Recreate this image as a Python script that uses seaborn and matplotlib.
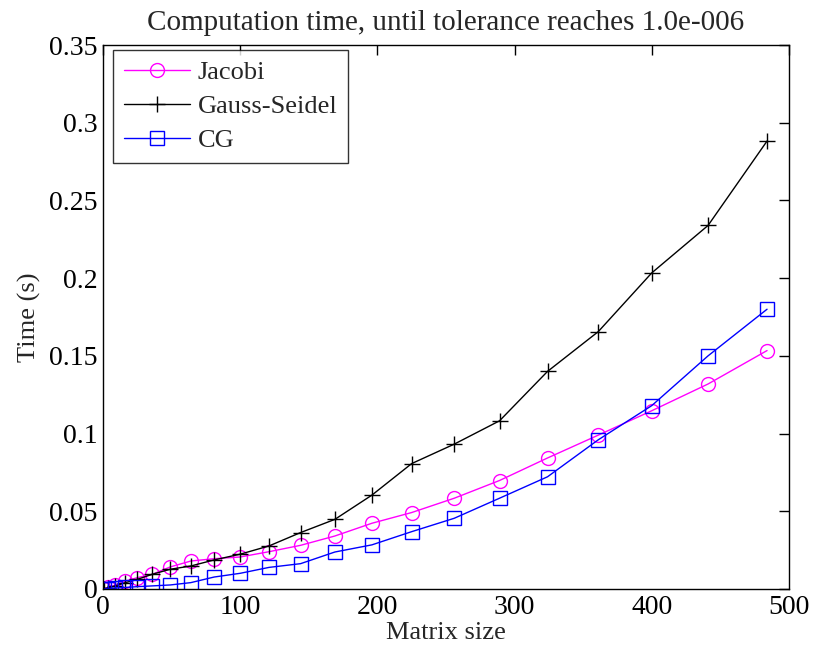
import numpy as np
import pandas as pd
import matplotlib
matplotlib.use("Agg")
import matplotlib.pyplot as plt
import seaborn as sns

# Matrix sizes (n^2 for n = 1..22) and measured solve times in seconds
matrix_size = [1, 4, 9, 16, 25, 36, 49, 64, 81, 100, 121, 144, 169, 196,
               225, 256, 289, 324, 361, 400, 441, 484]
jacobi = [0.0003, 0.0010, 0.0025, 0.0050, 0.0073, 0.0095, 0.0142, 0.0180,
          0.0195, 0.0206, 0.0240, 0.0281, 0.0341, 0.0423, 0.0492, 0.0584,
          0.0698, 0.0843, 0.0990, 0.1147, 0.1319, 0.1534]
gauss_seidel = [0.0002, 0.0008, 0.0020, 0.0040, 0.0062, 0.0095, 0.0127,
                0.0148, 0.0187, 0.0224, 0.0277, 0.0363, 0.0448, 0.0604,
                0.0807, 0.0932, 0.1082, 0.1400, 0.1656, 0.2034, 0.2339,
                0.2882]
cg = [0.0001, 0.0003, 0.0006, 0.0010, 0.0015, 0.0020, 0.0026, 0.0041,
      0.0077, 0.0101, 0.0139, 0.0163, 0.0238, 0.0284, 0.0369, 0.0455,
      0.0584, 0.0722, 0.0960, 0.1180, 0.1500, 0.1800]

x_ticks = [0, 100, 200, 300, 400, 500]
y_ticks = [0, 0.05, 0.1, 0.15, 0.2, 0.25, 0.3, 0.35]
y_tick_labels = ["0", "0.05", "0.1", "0.15", "0.2", "0.25", "0.3", "0.35"]

sns.set_style("white")
plt.rcParams["font.family"] = ["Liberation Serif", "DejaVu Serif"]
plt.rcParams["xtick.direction"] = "in"
plt.rcParams["ytick.direction"] = "in"

fig = plt.figure(figsize=(8.15, 6.54), dpi=100)
ax = fig.add_axes([103 / 815, 1 - 589 / 654, (789 - 103) / 815, (589 - 45) / 654])

df = pd.DataFrame({"size": matrix_size, "Jacobi": jacobi,
                   "Gauss-Seidel": gauss_seidel, "CG": cg})

series = [("Jacobi", "#ff00ff", "o"),
          ("Gauss-Seidel", "#000000", "+"),
          ("CG", "#0000ff", "s")]
for name, color, marker in series:
    sns.lineplot(data=df, x="size", y=name, ax=ax, color=color, lw=1.0,
                 marker=marker, markersize=10 if marker != "+" else 12,
                 markerfacecolor="none", markeredgecolor=color,
                 markeredgewidth=1.0, label=name)

ax.set_xlim(0, 500)
ax.set_ylim(0, 0.35)
ax.set_xticks(x_ticks)
ax.set_xticklabels([str(t) for t in x_ticks])
ax.set_yticks(y_ticks)
ax.set_yticklabels(y_tick_labels)
ax.tick_params(axis="both", which="major", labelsize=20, length=7, width=1,
               top=True, right=True, pad=4, colors="black")

for sp in ax.spines.values():
    sp.set_visible(True)
    sp.set_color("black")
    sp.set_linewidth(1.0)

ax.set_xlabel("Matrix size", fontsize=19, labelpad=2)
ax.set_ylabel("Time (s)", fontsize=19, labelpad=6)
ax.set_title("Computation time, until tolerance reaches 1.0e-006",
             fontsize=21, pad=11)

leg = ax.legend(loc="upper left", bbox_to_anchor=(10 / 686, 1 - 5 / 544),
                borderaxespad=0, fontsize=19, frameon=True, fancybox=False,
                edgecolor="black", handlelength=2.5, borderpad=0.4,
                labelspacing=0.4, handletextpad=0.3)
leg.get_frame().set_linewidth(1.0)

fig.savefig("out.png", dpi=100)
